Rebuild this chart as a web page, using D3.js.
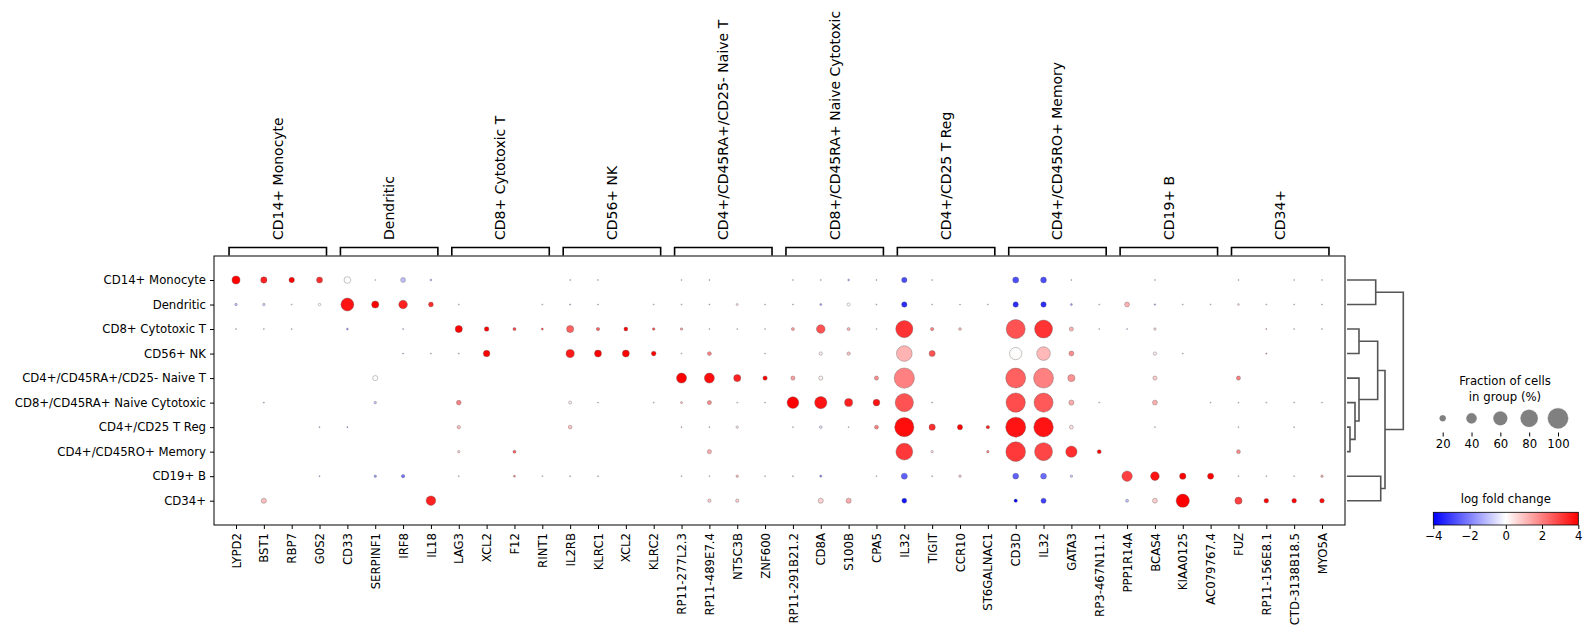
<!DOCTYPE html>
<html>
<head>
<meta charset="utf-8">
<script src="https://cdn.jsdelivr.net/npm/d3@7"></script>
<style>
  body { margin: 0; background: #fff; }
  text { font-family: "DejaVu Sans", sans-serif; fill: #000; }
</style>
</head>
<body>
<svg id="chart" width="1591" height="641"></svg>
<script>
// cell groups (rows, top to bottom)
const groups = [
  "CD14+ Monocyte", "Dendritic", "CD8+ Cytotoxic T", "CD56+ NK",
  "CD4+/CD45RA+/CD25- Naive T", "CD8+/CD45RA+ Naive Cytotoxic",
  "CD4+/CD25 T Reg", "CD4+/CD45RO+ Memory", "CD19+ B", "CD34+"
];

// marker genes (columns), 4 per group
const genes = [
  "LYPD2", "BST1", "RBP7", "G0S2",
  "CD33", "SERPINF1", "IRF8", "IL18",
  "LAG3", "XCL2", "F12", "RINT1",
  "IL2RB", "KLRC1", "XCL2", "KLRC2",
  "RP11-277L2.3", "RP11-489E7.4", "NT5C3B", "ZNF600",
  "RP11-291B21.2", "CD8A", "S100B", "CPA5",
  "IL32", "TIGIT", "CCR10", "ST6GALNAC1",
  "CD3D", "IL32", "GATA3", "RP3-467N11.1",
  "PPP1R14A", "BCAS4", "KIAA0125", "AC079767.4",
  "FUZ", "RP11-156E8.1", "CTD-3138B18.5", "MYO5A"
];

// fraction of cells in group expressing the gene (%), one row per group
const fraction = [
  [29, 21, 17, 20, 23, 1.5, 15, 4, 0, 0, 0, 0, 2, 2, 0, 0, 2, 2, 0, 0, 2, 2, 4, 2, 17, 2, 0, 0, 20, 19, 2, 0, 0, 2, 0, 0, 2, 0, 2, 2],
  [6, 6, 2, 6, 55, 25, 32, 15, 2, 0, 0, 2, 2.5, 2, 0, 2, 2, 2, 4.5, 2, 2, 4.5, 8, 2, 17, 2, 2, 2, 17, 17, 4.5, 2, 15, 3, 2, 2, 4, 2, 2, 2],
  [2, 2, 2, 0, 4, 0, 2, 0, 25, 14, 8, 4.5, 25, 9, 11, 6, 6, 2, 2, 2, 8, 32, 8, 2, 80, 9, 7, 0, 92, 85, 12, 2, 2, 6, 0, 0, 0, 2, 2, 2],
  [0, 0, 0, 0, 0, 0, 2, 2, 2, 22, 0, 0, 30, 24, 24, 14, 2, 11, 0, 2, 0, 9, 9, 0, 71, 20, 0, 0, 51, 59, 15, 0, 0, 9, 2, 0, 0, 2.5, 0, 0],
  [0, 0, 0, 0, 0, 16, 0, 0, 0, 0, 0, 0, 0, 0, 0, 0, 39, 39, 25, 13, 12, 12, 0, 12, 100, 0, 0, 0, 98, 98, 25, 0, 0, 12, 0, 0, 12, 0, 0, 0],
  [0, 2, 0, 0, 0, 6, 0, 0, 14, 0, 0, 0, 8, 2, 0, 2, 5, 12, 2, 2, 48, 51, 29, 23, 87, 2, 0, 0, 94, 92, 16, 2, 0, 15, 0, 2, 2, 2, 2, 2],
  [0, 0, 0, 2, 2, 0, 0, 0, 9, 0, 0, 0, 10, 0, 0, 0, 2, 2, 6, 0, 2, 7, 2, 11, 93, 21, 16, 9, 98, 95, 11, 0, 0, 2, 0, 0, 2, 0, 2, 0],
  [0, 0, 0, 0, 0, 0, 0, 0, 6, 0, 8, 0, 0, 0, 0, 0, 0, 12, 0, 0, 0, 0, 0, 0, 78, 6, 0, 6, 96, 85, 46, 11, 0, 0, 0, 0, 11, 0, 0, 0],
  [0, 0, 0, 2, 0, 6, 9, 0, 2, 0, 4.5, 2, 2, 2, 0, 0, 2, 2, 6, 2, 2, 5, 0, 2, 20, 2, 6, 0, 19, 19, 6, 0, 41, 32, 21, 20, 2, 2, 2, 6],
  [0, 16, 0, 0, 0, 0, 0, 37, 0, 0, 0, 0, 0, 0, 0, 0, 0, 9, 9, 0, 0, 16, 16, 0, 15, 0, 0, 0, 9, 16, 0, 0, 8, 15, 57, 0, 25, 14, 14, 14]
];

// log fold change, one row per group
const logfc = [
  [4, 3.5, 4, 3.3, 0, -1, -1, -1, 0, 0, 0, 0, -1, -0.5, 0, 0, -0.5, -0.8, 0, 0, -0.5, -0.5, -1.2, -0.8, -2.8, -0.8, 0, 0, -2.8, -2.8, -0.8, 0, 0, -0.5, 0, 0, -0.5, 0, -0.5, -0.5],
  [-1, -0.8, -0.5, 0, 3.7, 4, 3.5, 3.3, -0.5, 0, 0, -0.5, -1, -0.8, 0, -0.5, -0.5, -1, 0.5, -0.5, -0.8, -1.5, 0, -0.8, -3.3, -0.5, -0.5, -0.5, -3.3, -3.3, -1.5, -0.5, 1.2, -1.5, -0.5, -0.5, 0.5, -0.5, -0.5, -0.5],
  [-0.8, -0.8, -0.8, 0, -2, 0, -1.5, 0, 4, 4, 3, 3, 2.5, 2.5, 4, 2.8, 1.5, 0.5, 0.5, 0.5, 1.5, 2.7, 1.2, 0.5, 3.2, 2, 1, 0, 2.7, 3.2, 1.2, 0.5, -1, 0.5, 0, 0, 0, 2, 0.5, 0.5],
  [0, 0, 0, 0, 0, 0, -1.5, -1, -0.8, 4, 0, 0, 3.6, 4, 4, 4, 0.5, 2, 0, 0.5, 0, 0.3, 1, 0, 1.2, 2.7, 0, 0, 0.05, 1.1, 1.8, 0, 0, 0.3, -1, 0, 0, 2, 0, 0],
  [0, 0, 0, 0, 0, 0, 0, 0, 0, 0, 0, 0, 0, 0, 0, 0, 4, 3.8, 3.5, 4, 1.5, 0.2, 0, 1.8, 2, 0, 0, 0, 2.5, 2, 1.7, 0, 0, 0.8, 0, 0, 2, 0, 0, 0],
  [0, -1.5, 0, 0, 0, -1, 0, 0, 2, 0, 0, 0, 0.3, -0.5, 0, -0.5, 1, 1.8, 0.5, 0.5, 4, 3.7, 3.5, 3.7, 2.7, -1, 0, 0, 2.8, 2.6, 1.3, 0.5, 0, 1.3, 0, 0.5, 0.5, 0.5, 0.5, 0.5],
  [0, 0, 0, -1, -2, 0, 0, 0, 1, 0, 0, 0, 1, 0, 0, 0, 1, 0.5, 0.3, 0, 0.5, -0.5, 0.5, 2, 3.8, 3.3, 4, 3.5, 3.7, 3.7, 0.5, 0, 0, 0.5, 0, 0, 0.5, 0, 0.5, 0],
  [0, 0, 0, 0, 0, 0, 0, 0, 0.7, 0, 2.5, 0, 0, 0, 0, 0, 0, 1.3, 0, 0, 0, 0, 0, 0, 3.1, 0.5, 0, 2, 3.1, 2.9, 3.3, 4, 0, 0, 0, 0, 1.8, 0, 0, 0],
  [0, 0, 0, -1.5, 0, -1.5, -2.2, 0, -0.5, 0, 2, 0.5, -1, -1, 0, 0, 0.5, 0.5, 1, 0.5, -1, -1.8, 0, 0.5, -2.5, -1, 0.8, 0, -2.5, -2.3, -0.8, 0, 3, 3.7, 4, 4, 0.5, 0.5, 0.5, 1.2],
  [0, 1, 0, 0, 0, 0, 0, 3.5, 0, 0, 0, 0, 0, 0, 0, 0, 0, 0.8, 0.8, 0, 0, 0.7, 1.3, 0, -3.7, 0, 0, 0, -4, -3, 0, 0, -1, 0.8, 4, 0, 3, 4, 4, 3.8]
];

// dendrogram linkage: [childA, childB, distance]; leaves 0..9, merges numbered 10..
const linkage = [
  [0, 1, 0.51],
  [2, 3, 0.213],
  [6, 7, 0.053],
  [5, 12, 0.142],
  [4, 13, 0.213],
  [11, 14, 0.545],
  [8, 9, 0.599],
  [15, 16, 0.675],
  [10, 17, 1.0]
];

const sizeLegend = [20, 40, 60, 80, 100];
const cbarTicks = [-4, -2, 0, 2, 4];

const svg = d3.select("#chart");
svg.append("rect").attr("width", 1591).attr("height", 641).attr("fill", "#fff");

const frame = { left: 214, right: 1345, top: 256, bottom: 525 };

const x = d3.scalePoint().domain(d3.range(genes.length)).range([236, 1322]);
const y = d3.scalePoint().domain(d3.range(groups.length)).range([280, 500.7]);
const step = x.step();

const color = d3.scaleLinear().domain([-4, 0, 4]).range(["#0000ff", "#ffffff", "#ff0000"]).clamp(true);
const radius = d3.scalePow().exponent(0.75).domain([0, 100]).range([0, 10.15]);

// dots
const cells = [];
fraction.forEach((row, i) => row.forEach((f, j) => {
  if (f > 0) cells.push({ row: i, col: j, frac: f, lfc: logfc[i][j] });
}));

svg.append("g")
  .selectAll("circle")
  .data(cells)
  .join("circle")
  .attr("cx", d => x(d.col))
  .attr("cy", d => y(d.row))
  .attr("r", d => radius(d.frac))
  .attr("fill", d => color(d.lfc))
  .attr("stroke", "#555")
  .attr("stroke-width", 0.35);

// frame
svg.append("rect")
  .attr("x", frame.left).attr("y", frame.top)
  .attr("width", frame.right - frame.left).attr("height", frame.bottom - frame.top)
  .attr("fill", "none").attr("stroke", "#000").attr("stroke-width", 1);

// x axis
const xAxis = d3.axisBottom(x).tickSize(4).tickFormat(i => genes[i]);
const gx = svg.append("g").attr("transform", `translate(0,${frame.bottom})`).call(xAxis);
gx.select(".domain").remove();
gx.selectAll("text")
  .attr("font-size", 11.7)
  .attr("text-anchor", "end")
  .attr("transform", "rotate(-90)")
  .attr("x", -8).attr("y", 0).attr("dy", "0.35em");

// y axis
const yAxis = d3.axisLeft(y).tickSize(4).tickPadding(4).tickFormat(i => groups[i]);
const gy = svg.append("g").attr("transform", `translate(${frame.left},0)`).call(yAxis);
gy.select(".domain").remove();
gy.selectAll("text").attr("font-size", 11.7);

// group brackets + labels
const brTop = 247.5, brBottom = 255.5;
const br = svg.append("g");
groups.forEach((g, k) => {
  const x0 = x(4 * k) - step * 0.25, x1 = x(4 * k + 3) + step * 0.25;
  br.append("path")
    .attr("d", `M${x0},${brBottom}V${brTop}H${x1}V${brBottom}`)
    .attr("fill", "none").attr("stroke", "#000").attr("stroke-width", 1.6);
  const cx = (x(4 * k) + x(4 * k + 3)) / 2;
  br.append("text")
    .attr("transform", `translate(${cx},240) rotate(-90)`)
    .attr("dy", "0.35em")
    .attr("font-size", 14)
    .text(g);
});

// dendrogram
const dx = d3.scaleLinear().domain([0, 1]).range([1347, 1403.3]);
const nodes = groups.map((g, i) => ({ y: y(i), h: 0 }));
const dend = svg.append("g");
linkage.forEach(([a, b, h]) => {
  const A = nodes[a], B = nodes[b];
  dend.append("path")
    .attr("d", `M${dx(A.h)},${A.y}H${dx(h)}V${B.y}H${dx(B.h)}`)
    .attr("fill", "none").attr("stroke", "#555").attr("stroke-width", 1.6);
  nodes.push({ y: (A.y + B.y) / 2, h: h });
});

// size legend
const lg = svg.append("g");
lg.append("text").attr("x", 1505).attr("y", 380.7).attr("dy", "0.35em")
  .attr("text-anchor", "middle").attr("font-size", 11.7).text("Fraction of cells");
lg.append("text").attr("x", 1505).attr("y", 396.7).attr("dy", "0.35em")
  .attr("text-anchor", "middle").attr("font-size", 11.7).text("in group (%)");
const sx = d3.scalePoint().domain(sizeLegend).range([1442.7, 1558]);
lg.selectAll("circle").data(sizeLegend).join("circle")
  .attr("cx", d => sx(d)).attr("cy", 418.3).attr("r", d => radius(d))
  .attr("fill", "#808080").attr("stroke", "#777").attr("stroke-width", 0.3);
const sAxis = d3.axisBottom(sx).tickSize(4).tickPadding(3);
const gs = lg.append("g").attr("transform", "translate(0,432.5)").call(sAxis);
gs.select(".domain").remove();
gs.selectAll("text").attr("font-size", 11.7);

// colour bar
const cb = { x0: 1433.3, x1: 1578.3, y0: 512.3, y1: 525 };
const defs = svg.append("defs");
const grad = defs.append("linearGradient").attr("id", "bwr");
[0, 0.5, 1].forEach(t => grad.append("stop")
  .attr("offset", t).attr("stop-color", color(-4 + 8 * t)));
svg.append("rect").attr("x", cb.x0).attr("y", cb.y0)
  .attr("width", cb.x1 - cb.x0).attr("height", cb.y1 - cb.y0)
  .attr("fill", "url(#bwr)").attr("stroke", "#000").attr("stroke-width", 0.8);
svg.append("text").attr("x", (cb.x0 + cb.x1) / 2).attr("y", 499.3).attr("dy", "0.35em")
  .attr("text-anchor", "middle").attr("font-size", 11.7).text("log fold change");
const cx = d3.scaleLinear().domain([-4, 4]).range([cb.x0, cb.x1]);
const cAxis = d3.axisBottom(cx).tickValues(cbarTicks).tickSize(4).tickPadding(3)
  .tickFormat(d => d < 0 ? "\u2212" + Math.abs(d) : String(d));
const gc = svg.append("g").attr("transform", `translate(0,${cb.y1})`).call(cAxis);
gc.select(".domain").remove();
gc.selectAll("text").attr("font-size", 11.7);
</script>
</body>
</html>
